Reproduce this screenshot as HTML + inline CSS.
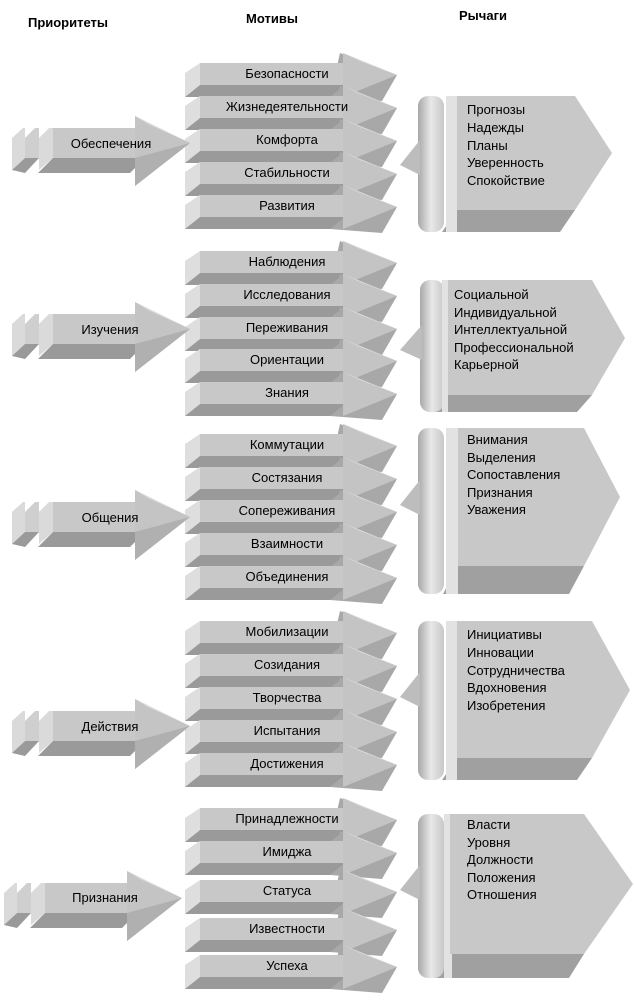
<!DOCTYPE html>
<html><head><meta charset="utf-8"><style>
html,body{margin:0;padding:0;background:#fff}
svg{display:block}
text{font-family:"Liberation Sans",sans-serif;font-size:13px;fill:#000}
</style></head><body>
<svg width="634" height="1005" viewBox="0 0 634 1005" xmlns="http://www.w3.org/2000/svg">
<defs>
<linearGradient id="br" x1="0" x2="1" y1="0" y2="0">
<stop offset="0" stop-color="#a8a8a8"/><stop offset="0.5" stop-color="#e8e8e8"/><stop offset="1" stop-color="#c8c8c8"/>
</linearGradient>
<symbol id="m" overflow="visible">
<polygon points="140,-10 197,12 182,38 130,34" fill="#a8a8a8"/>
<polygon points="-15,10 0,0 0,22 -15,34" fill="#dedede"/>
<polygon points="0,22 145,22 130,34 -15,34" fill="#9a9a9a"/>
<rect x="0" y="0" width="145" height="22" fill="#c8c8c8"/>
<polygon points="143,-10 197,12 143,34" fill="#c4c4c4"/>
<polygon points="143,-10 197,12 160,-2" fill="#dcdcdc"/>
</symbol>
<symbol id="p" overflow="visible">
<polygon points="-41,10 -30,0 -28,0 -28,30 -41,42" fill="#dadada"/>
<polygon points="-28,10 -18,0 -14,0 -14,30 -28,42" fill="#cfcfcf"/>
<polygon points="-14,10 -4,0 0,0 0,30 -14,42" fill="#dadada"/>
<polygon points="-41,42 -28,30 -14,30 -28,45" fill="#9a9a9a"/>
<polygon points="0,30 92,30 77,45 -15,45" fill="#9a9a9a"/>
<rect x="0" y="0" width="92" height="30" fill="#c8c8c8"/>
<polygon points="82,-12 137,15 82,58" fill="#c4c4c4"/>
<polygon points="82,30 137,15 82,58" fill="#b0b0b0"/>
<polygon points="82,-12 137,15 95,-4" fill="#dcdcdc"/>
</symbol>
</defs>

<text x="68" y="27" text-anchor="middle" font-weight="bold">Приоритеты</text>
<text x="272" y="23" text-anchor="middle" font-weight="bold">Мотивы</text>
<text x="483" y="20" text-anchor="middle" font-weight="bold">Рычаги</text>

<!-- Group boxes -->
<g id="boxes">
<!-- g1 -->
<g>
<polygon points="457,210 575,210 560,232 442,232" fill="#a0a0a0"/>
<rect x="418" y="96" width="26" height="136" rx="10" fill="url(#br)"/>
<polygon points="420,140 400,165 420,175" fill="#bdbdbd"/>
<rect x="446" y="96" width="11" height="136" fill="#e2e2e2"/>
<polygon points="457,96 575,96 612,153 575,210 457,210" fill="#c8c8c8"/>
</g>
<g>
<polygon points="448,395 592,395 577,412 433,412" fill="#a0a0a0"/>
<rect x="420" y="280" width="24" height="132" rx="10" fill="url(#br)"/>
<polygon points="422,325 400,350 422,360" fill="#bdbdbd"/>
<rect x="442" y="280" width="6" height="132" fill="#e2e2e2"/>
<polygon points="448,280 592,280 625,338 592,395 448,395" fill="#c8c8c8"/>
</g>
<g>
<polygon points="458,566 584,566 569,594 443,594" fill="#a0a0a0"/>
<rect x="418" y="428" width="26" height="166" rx="10" fill="url(#br)"/>
<polygon points="420,480 400,505 420,515" fill="#bdbdbd"/>
<rect x="446" y="428" width="12" height="166" fill="#e2e2e2"/>
<polygon points="458,428 584,428 620,497 584,566 458,566" fill="#c8c8c8"/>
</g>
<g>
<polygon points="457,758 592,758 577,780 442,780" fill="#a0a0a0"/>
<rect x="418" y="621" width="26" height="159" rx="10" fill="url(#br)"/>
<polygon points="420,672 400,697 420,707" fill="#bdbdbd"/>
<rect x="446" y="621" width="11" height="159" fill="#e2e2e2"/>
<polygon points="457,621 592,621 630,690 592,758 457,758" fill="#c8c8c8"/>
</g>
<g>
<polygon points="450,954 584,954 569,978 435,978" fill="#a0a0a0"/>
<rect x="418" y="814" width="26" height="164" rx="10" fill="url(#br)"/>
<polygon points="420,865 400,890 420,900" fill="#bdbdbd"/>
<rect x="444" y="814" width="8" height="164" fill="#e2e2e2"/>
<polygon points="450,814 584,814 633,884 584,954 450,954" fill="#c8c8c8"/>
</g>
</g>

<!-- Motive arrows -->
<use href="#m" x="200" y="63"/><use href="#m" x="200" y="96"/><use href="#m" x="200" y="129"/><use href="#m" x="200" y="162"/><use href="#m" x="200" y="195"/>
<use href="#m" x="200" y="251"/><use href="#m" x="200" y="284"/><use href="#m" x="200" y="317"/><use href="#m" x="200" y="349"/><use href="#m" x="200" y="382"/>
<use href="#m" x="200" y="434"/><use href="#m" x="200" y="467"/><use href="#m" x="200" y="500"/><use href="#m" x="200" y="533"/><use href="#m" x="200" y="566"/>
<use href="#m" x="200" y="621"/><use href="#m" x="200" y="654"/><use href="#m" x="200" y="687"/><use href="#m" x="200" y="720"/><use href="#m" x="200" y="753"/>
<use href="#m" x="200" y="808"/><use href="#m" x="200" y="841"/><use href="#m" x="200" y="880"/><use href="#m" x="200" y="918"/><use href="#m" x="200" y="955"/>

<!-- Priority arrows -->
<use href="#p" x="53" y="128"/>
<use href="#p" x="53" y="314"/>
<use href="#p" x="53" y="502"/>
<use href="#p" x="53" y="711"/>
<use href="#p" x="45" y="883"/>

<g text-anchor="middle">
<text x="111" y="148">Обеспечения</text>
<text x="110" y="334">Изучения</text>
<text x="110" y="522">Общения</text>
<text x="110" y="731">Действия</text>
<text x="105" y="902">Признания</text>

<text x="287" y="78">Безопасности</text>
<text x="287" y="111">Жизнедеятельности</text>
<text x="287" y="144">Комфорта</text>
<text x="287" y="177">Стабильности</text>
<text x="287" y="210">Развития</text>
<text x="287" y="266">Наблюдения</text>
<text x="287" y="299">Исследования</text>
<text x="287" y="332">Переживания</text>
<text x="287" y="364">Ориентации</text>
<text x="287" y="397">Знания</text>
<text x="287" y="449">Коммутации</text>
<text x="287" y="482">Состязания</text>
<text x="287" y="515">Сопереживания</text>
<text x="287" y="548">Взаимности</text>
<text x="287" y="581">Объединения</text>
<text x="287" y="636">Мобилизации</text>
<text x="287" y="669">Созидания</text>
<text x="287" y="702">Творчества</text>
<text x="287" y="735">Испытания</text>
<text x="287" y="768">Достижения</text>
<text x="287" y="823">Принадлежности</text>
<text x="287" y="856">Имиджа</text>
<text x="287" y="895">Статуса</text>
<text x="287" y="933">Известности</text>
<text x="287" y="970">Успеха</text>
</g>

<g>
<text x="467" y="114">Прогнозы</text><text x="467" y="132">Надежды</text><text x="467" y="150">Планы</text><text x="467" y="167">Уверенность</text><text x="467" y="185">Спокойствие</text>
<text x="454" y="299">Социальной</text><text x="454" y="317">Индивидуальной</text><text x="454" y="334">Интеллектуальной</text><text x="454" y="352">Профессиональной</text><text x="454" y="369">Карьерной</text>
<text x="467" y="444">Внимания</text><text x="467" y="462">Выделения</text><text x="467" y="479">Сопоставления</text><text x="467" y="497">Признания</text><text x="467" y="514">Уважения</text>
<text x="467" y="639">Инициативы</text><text x="467" y="657">Инновации</text><text x="467" y="675">Сотрудничества</text><text x="467" y="692">Вдохновения</text><text x="467" y="710">Изобретения</text>
<text x="467" y="829">Власти</text><text x="467" y="847">Уровня</text><text x="467" y="864">Должности</text><text x="467" y="882">Положения</text><text x="467" y="899">Отношения</text>
</g>
</svg>
</body></html>
